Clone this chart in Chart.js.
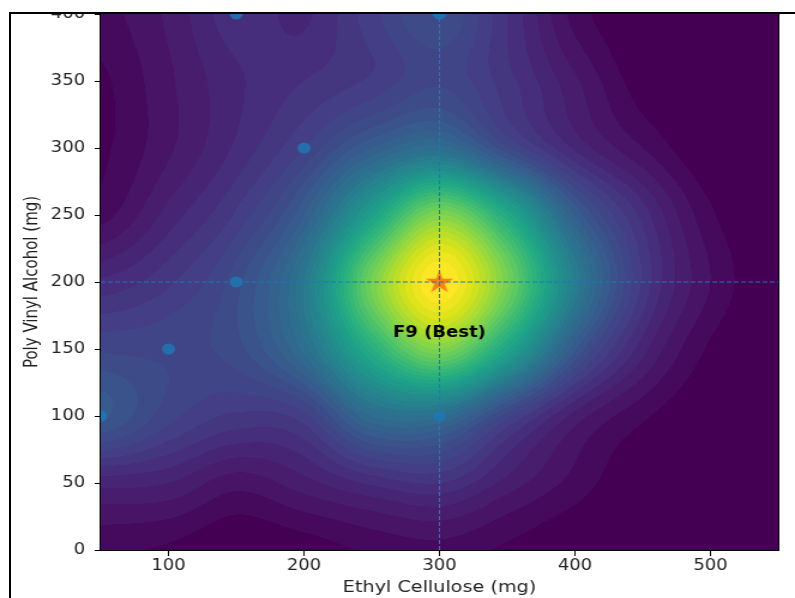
<!DOCTYPE html>
<html><head><meta charset="utf-8">
<script src="https://cdn.jsdelivr.net/npm/chart.js@4.4.1/dist/chart.umd.min.js"></script>
<style>
html,body{margin:0;padding:0;background:#fff;overflow:hidden;width:795px;height:598px;}
#wrap{position:absolute;left:0;top:0;width:663px;height:598px;transform:scaleX(1.1991);transform-origin:0 0;}
canvas{display:block;}
#cropT{position:absolute;left:0;top:0;width:795px;height:12px;background:#fff;}
#frameL{position:absolute;left:9px;top:12px;width:2px;height:586px;background:#000;}
#frameT{position:absolute;left:9px;top:12px;width:786px;height:2px;background:#000;}
</style></head><body>
<div id="wrap"><canvas id="c" width="663" height="598"></canvas></div>
<div id="cropT"></div><div id="frameL"></div><div id="frameT"></div>
<script>
// ---- data ----
const xTicks = [100, 200, 300, 400, 500];
const yTicks = [0, 50, 100, 150, 200, 250, 300, 350, 400];
const xRange = [50, 550];
const yRange = [0, 400];
// response-surface grid, one row per Poly Vinyl Alcohol level
const gridX = [50, 100, 150, 200, 250, 300, 350, 400, 450, 500, 550];
const gridY = [0, 50, 100, 150, 200, 250, 300, 350, 400];
const fieldY0   = [0.03, 0.02, 0.00, 0.01, 0.03, 0.04, 0.02, 0.00, 0.00, 0.00, 0.00];
const fieldY50  = [0.11, 0.10, 0.06, 0.09, 0.13, 0.15, 0.09, 0.04, 0.00, 0.00, 0.00];
const fieldY100 = [0.28, 0.21, 0.17, 0.19, 0.35, 0.36, 0.21, 0.09, 0.03, 0.00, 0.00];
const fieldY150 = [0.22, 0.22, 0.24, 0.36, 0.62, 0.80, 0.58, 0.28, 0.11, 0.02, 0.00];
const fieldY200 = [0.13, 0.17, 0.24, 0.40, 0.78, 1.00, 0.78, 0.42, 0.17, 0.05, 0.00];
const fieldY250 = [0.04, 0.11, 0.18, 0.30, 0.56, 0.80, 0.60, 0.30, 0.14, 0.03, 0.00];
const fieldY300 = [0.02, 0.07, 0.13, 0.20, 0.30, 0.36, 0.23, 0.12, 0.05, 0.00, 0.00];
const fieldY350 = [0.02, 0.07, 0.12, 0.15, 0.18, 0.22, 0.16, 0.08, 0.01, 0.00, 0.00];
const fieldY400 = [0.04, 0.08, 0.14, 0.12, 0.19, 0.25, 0.15, 0.04, 0.00, 0.00, 0.00];
// formulations
const formX = [150, 300, 200, 150, 100, 50, 300];
const formY = [400, 400, 300, 200, 150, 100, 100];
const bestX = [300];
const bestY = [200];
const bestLabel = 'F9 (Best)';
const xTitle = 'Ethyl Cellulose (mg)';
const yTitle = 'Poly Vinyl Alcohol (mg)';

// ---- rendering helpers ----
const field = [fieldY0, fieldY50, fieldY100, fieldY150, fieldY200, fieldY250, fieldY300, fieldY350, fieldY400];
const viridisStops = ['#440154','#48186a','#472d7b','#424086','#3b528b','#33638d','#2c728e','#26828e',
  '#21918c','#1fa088','#28ae80','#3fbc73','#5ec962','#84d44b','#addc30','#d8e219','#fde725'];
function hex(h){return [parseInt(h.substr(1,2),16),parseInt(h.substr(3,2),16),parseInt(h.substr(5,2),16)];}
const vstops = viridisStops.map(hex);
function viridis(t){
  t = Math.max(0, Math.min(1, t));
  const f = t * (vstops.length - 1), i = Math.min(vstops.length - 2, Math.floor(f)), r = f - i;
  const a = vstops[i], b = vstops[i+1];
  return [a[0]+(b[0]-a[0])*r, a[1]+(b[1]-a[1])*r, a[2]+(b[2]-a[2])*r];
}
const NLEV = 40;
const levelColors = [];
for (let i = 0; i < NLEV; i++) levelColors.push(viridis(i / (NLEV - 1)));
let fmin = Infinity, fmax = -Infinity;
field.forEach(r => r.forEach(v => { fmin = Math.min(fmin, v); fmax = Math.max(fmax, v); }));

function cr(p0,p1,p2,p3,t){return p1 + 0.5*t*(p2-p0 + t*(2*p0-5*p1+4*p2-p3 + t*(3*(p1-p2)+p3-p0)));}
function g(r,c){
  r = Math.max(0, Math.min(field.length-1, r));
  c = Math.max(0, Math.min(gridX.length-1, c));
  return field[r][c];
}
function sample(x, y){
  const u = (x - gridX[0]) / (gridX[1] - gridX[0]);
  const v = (y - gridY[0]) / (gridY[1] - gridY[0]);
  const i = Math.floor(u), j = Math.floor(v), tu = u - i, tv = v - j;
  const rows = [];
  for (let k = -1; k <= 2; k++) { const r = j + k; rows.push(cr(g(r,i-1), g(r,i), g(r,i+1), g(r,i+2), tu)); }
  return cr(rows[0], rows[1], rows[2], rows[3], tv);
}

const heatPlugin = {
  id: 'heat',
  beforeDatasetsDraw(chart){
    const {ctx, chartArea: a, scales: {x, y}} = chart;
    const L = Math.round(a.left), T = Math.round(a.top);
    const W = Math.round(a.right) - L, H = Math.round(a.bottom) - T;
    const img = ctx.createImageData(W, H);
    const xs = [];
    for (let px = 0; px < W; px++) xs.push(x.getValueForPixel(L + px + 0.5));
    for (let py = 0; py < H; py++) {
      const dy = y.getValueForPixel(T + py + 0.5);
      for (let px = 0; px < W; px++) {
        const v = sample(xs[px], dy);
        let b = Math.floor((v - fmin) / (fmax - fmin) * NLEV);
        b = Math.max(0, Math.min(NLEV - 1, b));
        const c = levelColors[b];
        const k = (py * W + px) * 4;
        img.data[k] = c[0]; img.data[k+1] = c[1]; img.data[k+2] = c[2]; img.data[k+3] = 255;
      }
    }
    ctx.putImageData(img, L, T);
    ctx.save();
    ctx.strokeStyle = '#000'; ctx.lineWidth = 1;
    ctx.strokeRect(a.left - 0.5, a.top - 0.5, a.right - a.left + 1, a.bottom - a.top + 1);
    ctx.restore();
  },
  afterDatasetsDraw(chart){
    const {ctx, scales: {x, y}} = chart;
    ctx.save();
    ctx.font = 'bold 15px "DejaVu Sans"';
    ctx.fillStyle = '#000';
    ctx.textAlign = 'center';
    ctx.textBaseline = 'middle';
    ctx.fillText(bestLabel, x.getPixelForValue(bestX[0]), y.getPixelForValue(bestY[0]) + 51);
    ctx.restore();
  }
};

// filled star marker
const star = document.createElement('canvas');
star.width = 26; star.height = 26;
(function(){
  const c = star.getContext('2d'), R = 12, r = R * 0.382, cx = 13, cy = 13.5;
  c.beginPath();
  for (let i = 0; i < 10; i++) {
    const ang = -Math.PI/2 + i * Math.PI / 5, rad = i % 2 ? r : R;
    const px = cx + rad * Math.cos(ang), py = cy + rad * Math.sin(ang);
    i ? c.lineTo(px, py) : c.moveTo(px, py);
  }
  c.closePath();
  c.fillStyle = 'rgba(250,120,20,0.92)';
  c.fill();
})();

const tickFont = {family: 'DejaVu Sans', size: 15};
new Chart(document.getElementById('c'), {
  type: 'scatter',
  data: {
    datasets: [
      {type: 'line', data: [{x: xRange[0], y: bestY[0]}, {x: xRange[1], y: bestY[0]}],
       borderColor: '#1f77b4', borderWidth: 1, borderDash: [4, 2], pointRadius: 0, fill: false, order: 0},
      {type: 'line', data: [{x: bestX[0], y: yRange[0]}, {x: bestX[0], y: yRange[1]}],
       borderColor: '#1f77b4', borderWidth: 1, borderDash: [4, 2], pointRadius: 0, fill: false, order: 0},
      {data: bestX.map((v, i) => ({x: v, y: bestY[i]})), pointStyle: star, pointRadius: 12, order: 1},
      {data: formX.map((v, i) => ({x: v, y: formY[i]})), pointRadius: 5.5,
       backgroundColor: 'rgba(31,119,180,0.82)', borderWidth: 0, order: 2, clip: 0}
    ]
  },
  options: {
    responsive: false, animation: false, devicePixelRatio: 1, events: [],
    layout: {padding: {left: 0, top: 14, right: 14, bottom: 0}},
    plugins: {legend: {display: false}, tooltip: {enabled: false}},
    scales: {
      x: {
        type: 'linear', min: xRange[0], max: xRange[1],
        afterBuildTicks: s => { s.ticks = xTicks.map(v => ({value: v})); },
        afterFit: s => { s.height = 48; s.paddingLeft = 0; s.paddingRight = 0; s.paddingTop = 0; s.paddingBottom = 0; },
        grid: {drawOnChartArea: false, drawTicks: true, tickLength: 6, tickColor: '#000', tickWidth: 1},
        border: {display: false},
        ticks: {font: tickFont, color: '#222', padding: 1, maxRotation: 0, autoSkip: false},
        title: {display: true, text: xTitle, font: {family: 'DejaVu Sans', size: 16}, color: '#222', padding: {top: 0, bottom: 1}}
      },
      y: {
        type: 'linear', min: yRange[0], max: yRange[1],
        afterBuildTicks: s => { s.ticks = yTicks.map(v => ({value: v})); },
        afterFit: s => { s.width = 84; s.paddingTop = 0; s.paddingBottom = 0; s.paddingLeft = 0; s.paddingRight = 0; },
        grid: {drawOnChartArea: false, drawTicks: true, tickLength: 5, tickColor: '#000', tickWidth: 1},
        border: {display: false},
        ticks: {font: tickFont, color: '#222', padding: 8, autoSkip: false},
        title: {display: true, text: yTitle, font: {family: 'DejaVu Sans', size: 15}, color: '#222', padding: {top: 18, bottom: 0}}
      }
    }
  },
  plugins: [heatPlugin]
});
</script>
</body></html>
